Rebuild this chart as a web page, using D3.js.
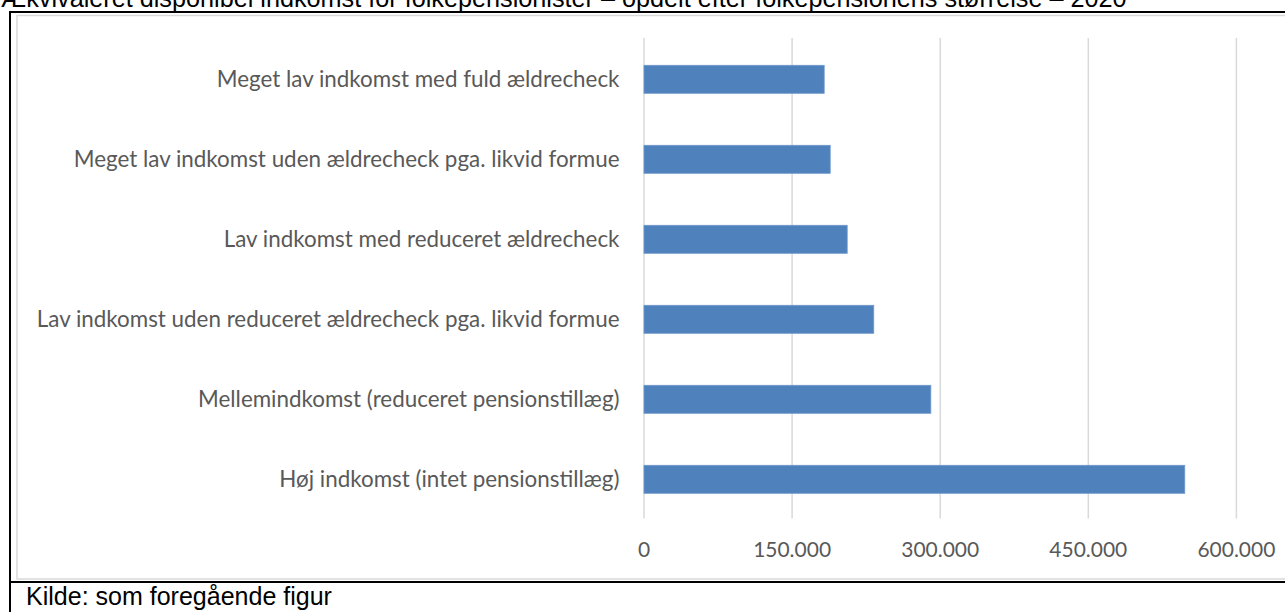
<!DOCTYPE html>
<html>
<head>
<meta charset="utf-8">
<script src="https://cdn.jsdelivr.net/npm/d3@7"></script>
<style>
  html, body { margin: 0; padding: 0; background: #ffffff; overflow: hidden; }
  svg { display: block; }
</style>
</head>
<body>
<svg id="chart" width="1285" height="612"></svg>
<script>
// ---- Data ----
const categories = [
  "Meget lav indkomst med fuld ældrecheck",
  "Meget lav indkomst uden ældrecheck pga. likvid formue",
  "Lav indkomst med reduceret ældrecheck",
  "Lav indkomst uden reduceret ældrecheck pga. likvid formue",
  "Mellemindkomst (reduceret pensionstillæg)",
  "Høj indkomst (intet pensionstillæg)"
];
const values = [182500, 188600, 205800, 232700, 290500, 547700];
const xTicks = [0, 150000, 300000, 450000, 600000];
const titleText = "Ækvivaleret disponibel indkomst for folkepensionister – opdelt efter folkepensionens størrelse – 2020";
const sourceText = "Kilde: som foregående figur";

// ---- Drawing ----
const svg = d3.select("#chart");
const W = 1285, H = 612;

const daLocale = d3.formatLocale({decimal: ",", thousands: ".", grouping: [3], currency: ["", " kr."]});
const fmt = daLocale.format(",.0f");

function fitFont(sel, targetWidth, startSize) {
  sel.style("font-size", startSize + "px");
  const w = sel.node().getComputedTextLength();
  const size = startSize * targetWidth / w;
  sel.style("font-size", size + "px");
  return size;
}

// Title (partially cut at the top)
const title = svg.append("text")
  .attr("x", 1).attr("y", 7)
  .attr("font-family", "'Liberation Sans', Arial, sans-serif")
  .attr("fill", "#000")
  .text(titleText);
fitFont(title, 1126, 24);

// Outer table-cell box
const box = svg.append("g").attr("stroke", "#000").attr("stroke-width", 2).attr("fill", "none");
box.append("line").attr("x1", 10).attr("x2", 10).attr("y1", 11).attr("y2", H);
box.append("line").attr("x1", 9).attr("x2", W + 5).attr("y1", 12).attr("y2", 12);
box.append("line").attr("x1", 9).attr("x2", W + 5).attr("y1", 582).attr("y2", 582);

// Inner chart-area border (light grey)
svg.append("rect")
  .attr("x", 17).attr("y", 15.5).attr("width", W).attr("height", 563.5)
  .attr("fill", "none").attr("stroke", "#d9d9d9").attr("stroke-width", 1.5);

// Scales
const x = d3.scaleLinear().domain([0, 600000]).range([644, 1236.4]);
const y = d3.scaleBand().domain(categories).range([39.3, 519.3])
  .paddingInner(0.65).paddingOuter(0.325);

// Gridlines
svg.append("g").selectAll("line").data(xTicks).join("line")
  .attr("x1", d => x(d)).attr("x2", d => x(d))
  .attr("y1", 38).attr("y2", 518.5)
  .attr("stroke", "#d9d9d9").attr("stroke-width", 1.5);

// Bars
svg.append("g").selectAll("rect").data(values).join("rect")
  .attr("x", x(0))
  .attr("y", (d, i) => y(categories[i]))
  .attr("width", d => x(d) - x(0))
  .attr("height", y.bandwidth())
  .attr("fill", "#4f81bd")
  .attr("stroke", "#6f98cc").attr("stroke-width", 0.8);

// Category labels
const labelFont = "Lato, 'Open Sans', sans-serif";
const catLabels = svg.append("g").selectAll("text").data(categories).join("text")
  .attr("x", 619.5)
  .attr("y", d => y(d) + y.bandwidth() / 2)
  .attr("dy", "0.36em")
  .attr("text-anchor", "end")
  .attr("font-family", labelFont)
  .attr("fill", "#595959")
  .text(d => d);
// fit label size to the longest label width
{
  const longest = catLabels.filter((d, i) => i === 3);
  const s = fitFont(longest, 583, 22);
  catLabels.style("font-size", s + "px");
}

// Tick labels
const tickLabels = svg.append("g").selectAll("text").data(xTicks).join("text")
  .attr("x", d => x(d))
  .attr("y", 557)
  .attr("text-anchor", "middle")
  .attr("font-family", labelFont)
  .attr("fill", "#595959")
  .text(d => fmt(d));
{
  const last = tickLabels.filter((d, i) => i === xTicks.length - 1);
  const s = fitFont(last, 78, 22);
  tickLabels.style("font-size", s + "px");
}

// Source
const src = svg.append("text")
  .attr("x", 26).attr("y", 605)
  .attr("font-family", "'Liberation Sans', Arial, sans-serif")
  .attr("fill", "#000")
  .text(sourceText);
fitFont(src, 306, 24);
</script>
</body>
</html>
